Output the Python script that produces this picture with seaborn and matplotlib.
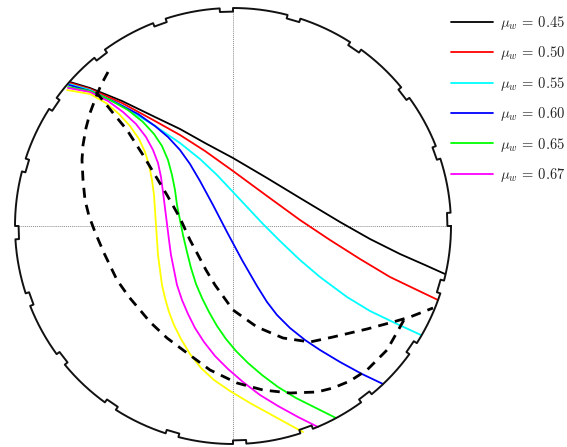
import numpy as np
import matplotlib
matplotlib.use("Agg")
import matplotlib.pyplot as plt
import seaborn as sns

sns.set_style("white")
plt.rcParams["mathtext.fontset"] = "cm"

# ---- data (units: shell radius = 218, centre at 0,0) ----
shell_radius = 218
n_lifters = 20
lifter_depth = 3.6
lifter_width_deg = 3.5

labels = [r"$\mu_w \,=\, 0.45$", r"$\mu_w \,=\, 0.50$", r"$\mu_w \,=\, 0.55$",
          r"$\mu_w \,=\, 0.60$", r"$\mu_w \,=\, 0.65$", r"$\mu_w \,=\, 0.67$", None]
colors = ["#000000", "#ff0000", "#00ffff", "#0000ff", "#00ff00", "#ff00ff", "#ffff00"]

x045 = [-163, -143, -111, -78, -53, -28, 0, 34, 67, 107, 137, 167, 192, 212]
y045 = [144, 138, 125, 109, 97, 83, 68, 48, 28, 4, -13, -28, -39, -48]

x050 = [-163, -143, -111, -78, -53, -28, 0, 34, 67, 97, 127, 157, 182, 205]
y050 = [143, 137, 123, 105, 91, 75, 55, 30, 6, -14, -33, -51, -63, -74]

x055 = [-164, -143, -111, -78, -53, -33, -16, 0, 15, 30, 47, 67, 87, 114, 137, 162, 188]
y055 = [142, 136, 120, 100, 83, 67, 51, 34, 18, 2, -15, -34, -51, -71, -85, -97, -109]

x060 = [-164, -143, -118, -95, -78, -65, -53, -43, -33, -20, -6, 9, 24, 34, 44, 57, 72, 87,
        107, 129, 150]
y060 = [141, 135, 124, 112, 100, 89, 76, 62, 45, 21, -6, -34, -60, -76, -89, -102, -114, -124,
        -136, -148, -158]

x065 = [-165, -143, -123, -105, -90, -79, -71, -65, -61, -58, -56, -53, -50, -46, -42, -37,
        -31, -24, -16, -7, 3, 15, 29, 45, 63, 83, 103]
y065 = [139, 135, 126, 116, 104, 92, 80, 66, 51, 36, 21, 6, -9, -26, -42, -58,
        -72, -86, -100, -113, -125, -137, -149, -161, -172, -182, -192]

x067 = [-165, -143, -125, -110, -97, -87, -80, -75, -72, -70, -68, -66, -64, -62, -59, -56,
        -51, -45, -38, -29, -18, -5, 10, 27, 45, 65, 85]
y067 = [138, 134, 125, 114, 102, 89, 76, 63, 49, 34, 18, 2, -14, -29, -44, -59,
        -74, -88, -102, -116, -130, -143, -156, -169, -180, -191, -201]

x070 = [-166, -143, -127, -114, -103, -94, -88, -84, -81, -79, -78, -77, -76, -75, -73, -71,
        -68, -64, -59, -52, -43, -32, -19, -3, 17, 37, 57, 70]
y070 = [136, 132, 123, 112, 100, 87, 74, 61, 46, 31, 16, 1, -14, -29, -44, -59,
        -72, -86, -99, -113, -128, -142, -154, -165, -177, -188, -199, -206]

outer_x = [-125, -132, -137, -143, -147, -150, -151, -150, -148, -144, -138, -129, -116, -104,
           -93, -83, -66, -50, -23, 4, 30, 57, 84, 100, 117, 134, 154, 167, 172]
outer_y = [154, 141, 129, 113, 98, 81, 66, 46, 26, 10, -6, -27, -54, -71,
           -84, -96, -112, -124, -144, -157, -164, -167, -166, -162, -155, -144, -124, -101, -92]

inner_x = [-137, -128, -120, -106, -90, -78, -66, -53, -43, -36, -27, -18, 0, 24, 50, 77,
           100, 134, 160, 177, 200]
inner_y = [134, 123, 113, 96, 71, 51, 31, 8, -14, -27, -44, -59, -84, -101, -112, -116,
           -111, -103, -96, -91, -82]

traj_x = [x045, x050, x055, x060, x065, x067, x070]
traj_y = [y045, y050, y055, y060, y065, y067, y070]

# ---- figure ----
W, H = 567, 447
fig = plt.figure(figsize=(W / 100, H / 100), dpi=100)
cx, cy = 233, 226
L = 221
ax = fig.add_axes([(cx - L) / W, (H - cy - L) / H, 2 * L / W, 2 * L / H])
ax.set_axis_off()

# shell with lifters
pts_t, pts_r = [], []
for k in range(n_lifters):
    a0 = 360.0 / n_lifters * k
    a1 = a0 + lifter_width_deg
    a2 = 360.0 / n_lifters * (k + 1)
    pts_t += [a0, a0, a1, a1]
    pts_r += [shell_radius, shell_radius - lifter_depth, shell_radius - lifter_depth, shell_radius]
    arc = np.linspace(a1, a2, 40)[1:-1]
    pts_t += list(arc)
    pts_r += [shell_radius] * len(arc)
pts_t.append(360.0)
pts_r.append(shell_radius)
th = np.deg2rad(np.array(pts_t))
rr = np.array(pts_r)
ax.plot(rr * np.cos(th), rr * np.sin(th), color="#111111", lw=1.4, zorder=3)

# crosshair
ax.plot([0, 0], [-shell_radius, shell_radius], color="0.55", lw=0.7, ls=(0, (1, 1)), zorder=1)
ax.plot([-shell_radius, shell_radius], [0, 0], color="0.55", lw=0.7, ls=(0, (1, 1)), zorder=1)

handles, hlabels = [], []
for xs, ys, c, lab in zip(traj_x, traj_y, colors, labels):
    sns.lineplot(x=xs, y=ys, sort=False, estimator=None, color=c, lw=1.3, ax=ax)
    line = ax.lines[-1]
    line.set_solid_joinstyle("round")
    if lab is not None:
        handles.append(line)
        hlabels.append(lab)

for xs, ys in [(outer_x, outer_y), (inner_x, inner_y)]:
    sns.lineplot(x=xs, y=ys, sort=False, estimator=None, color="black", lw=2.0,
                 linestyle=(0, (3.6, 2.6)), ax=ax)

ax.set_xlim(-L, L)
ax.set_ylim(-L, L)
ax.set_axis_off()

fig.legend(handles, hlabels, loc="upper left", bbox_to_anchor=(451 / W, 1 - 14 / H),
           bbox_transform=fig.transFigure, frameon=False, fontsize=10.5,
           handlelength=2.9, handletextpad=0.45, labelspacing=0.85, borderpad=0,
           borderaxespad=0)

fig.savefig("out.png", dpi=100)
